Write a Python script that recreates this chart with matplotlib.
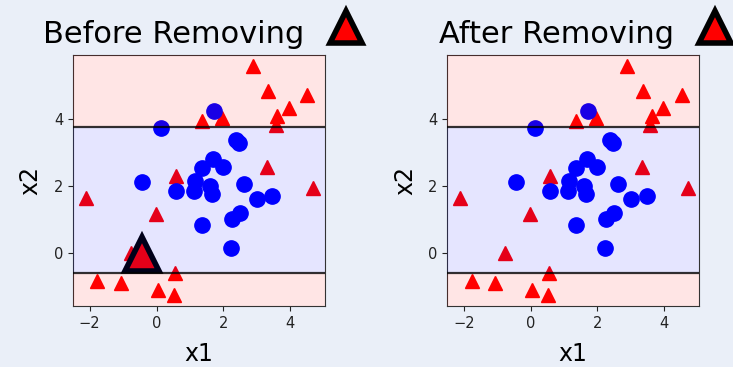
import matplotlib.pyplot as plt

# class -1 (red triangles)
red_x = [2.90, 3.35, 4.52, 3.97, 3.62, 3.58, 1.96, 1.36, 3.32, 4.70,
         0.57, -2.12, -0.01, -0.77, 0.54, -1.77, -1.07, 0.05, 0.52]
red_y = [5.56, 4.82, 4.72, 4.32, 4.07, 3.82, 4.02, 3.92, 2.56, 1.93,
         2.28, 1.63, 1.16, -0.02, -0.61, -0.86, -0.91, -1.12, -1.27]

# class +1 (blue circles)
blue_x = [1.71, 0.14, 2.39, 2.46, 1.69, 1.36, 1.99, -0.43, 1.16, 2.61,
          0.59, 1.11, 1.61, 1.66, 3.01, 3.47, 2.51, 2.26, 1.36, 2.23]
blue_y = [4.24, 3.72, 3.37, 3.27, 2.80, 2.53, 2.56, 2.11, 2.13, 2.05,
          1.85, 1.83, 1.98, 1.76, 1.61, 1.68, 1.18, 1.01, 0.81, 0.14]

# the point that gets removed
removed_x = [-0.42]
removed_y = [-0.03]

# decision band limits
upper = 3.74
lower = -0.61

titles = ['Before Removing', 'After Removing']
title_x = [0.40, 0.435]
marker_x = [1.083, 1.062]

bg = '#eaeff8'
fig = plt.figure(figsize=(7.33, 3.67), dpi=100, facecolor=bg)
axes = [fig.add_axes([0.0996, 0.166, 0.344, 0.684]),
        fig.add_axes([0.610, 0.166, 0.344, 0.684])]

for k, ax in enumerate(axes):
    ax.set_facecolor('white')
    ax.plot(red_x, red_y, '^', color='red', ms=10, ls='none', zorder=2)
    ax.plot(blue_x, blue_y, 'o', color='blue', ms=11, ls='none', zorder=2)
    if k == 0:
        ax.plot(removed_x, removed_y, '^', color='red', ms=24,
                mec='black', mew=4, ls='none', zorder=2)

    ax.set_xlim(-2.5, 5.05)
    ax.set_ylim(-1.6, 5.9)
    # shaded regions on top of the points
    ax.axhspan(upper, 5.9, color='red', alpha=0.1, lw=0, zorder=3)
    ax.axhspan(-1.6, lower, color='red', alpha=0.1, lw=0, zorder=3)
    ax.axhspan(lower, upper, color='blue', alpha=0.1, lw=0, zorder=3)
    ax.axhline(upper, color='black', lw=1.6, alpha=0.8, zorder=4)
    ax.axhline(lower, color='black', lw=1.6, alpha=0.8, zorder=4)

    ax.set_xticks([-2, 0, 2, 4])
    ax.set_yticks([0, 2, 4])
    ax.tick_params(labelsize=10.5, colors='#222222')
    for sp in ax.spines.values():
        sp.set_color('#333333')
    ax.set_xlabel('x1', fontsize=17, labelpad=8)
    ax.set_ylabel('x2', fontsize=17, labelpad=8)

    ax.text(title_x[k], 1.048, titles[k], transform=ax.transAxes,
            ha='center', va='baseline', fontsize=22)
    ax.plot([marker_x[k]], [1.112], '^', transform=ax.transAxes,
            clip_on=False, color='red', ms=23, mec='black', mew=4,
            ls='none')

fig.savefig('out.png', dpi=100, facecolor=bg)
